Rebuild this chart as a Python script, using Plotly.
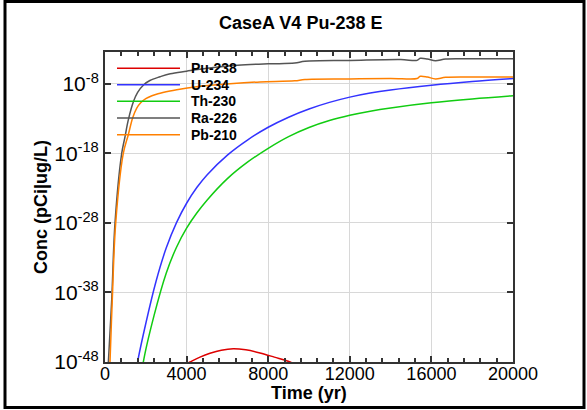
import plotly.graph_objects as go

# ---------------- data ----------------
series_names = ["Pu-238", "U-234", "Th-230", "Ra-226", "Pb-210"]
series_colors = ["#dd0000", "#3333ff", "#11cc11", "#555555", "#ff8000"]

pu238_t = [3900, 4167, 4657, 5147, 5700, 6290, 6900, 7598, 8300, 9069, 9400]
pu238_c = [4e-49, 1e-48, 5e-48, 1.8e-47, 5e-47, 8.1e-47, 5.6e-47, 2e-47, 5e-48, 1e-48, 3e-49]

u234_t = [1560, 1600, 2000, 2500, 3000, 3500, 4000, 4500, 5000, 6000, 7000, 8000, 9000,
          10000, 11000, 12000, 13000, 14000, 16000, 18000, 20000]
u234_c = [1e-49, 1e-48, 3.47e-43, 3.89e-37, 2.45e-32, 1.05e-28, 6.9e-26, 1.26e-23,
          8.3e-22, 5.9e-19, 9.3e-17, 5.9e-15, 1.66e-13, 2.5e-12, 2.24e-11, 1.29e-10,
          5.0e-10, 1.38e-09, 6.6e-09, 2.3e-08, 6.3e-08]

th230_t = [1840, 1880, 2400, 3000, 3500, 4000, 4500, 5000, 6000, 7000, 8000, 9000, 10000,
           11000, 12000, 13000, 14000, 16000, 18000, 20000]
th230_c = [1e-49, 1e-48, 4.27e-42, 6.0e-36, 3.0e-32, 1.78e-29, 2.7e-27, 1.9e-25, 2.4e-22,
           6.0e-20, 5.6e-18, 2.7e-16, 5.6e-15, 5.6e-14, 3.16e-13, 1.23e-12, 3.6e-12,
           1.95e-11, 7.1e-11, 2.04e-10]

ra226_t = [150, 165, 330, 490, 819, 980, 1140, 1400, 1600, 1900, 2200, 2700, 3200,
           4000, 5000, 6500, 8000, 9300, 9800, 12000, 14500, 15300, 15450, 15800, 16200,
           16700, 18000, 20000]
ra226_c = [3e-50, 1e-48, 1e-39, 1e-28, 1e-18, 2.5e-16, 6.3e-14, 3.2e-11, 6.3e-10,
           7.9e-09, 3.2e-08, 1.1e-07, 3e-07, 6.9e-07, 1.8e-06, 5e-06, 7.9e-06, 1e-05,
           1.8e-05, 2.4e-05, 3.2e-05, 2.5e-05, 4.9e-05, 4e-05, 2.2e-05, 4e-05, 4.2e-05,
           4.4e-05]

pb210_t = [230, 245, 358, 525, 897, 1142, 1358, 1550, 1750, 2000, 2300, 2600, 3186,
           3515, 4495, 5147, 6128, 7598, 9300, 9800, 12000, 14000, 15300, 15450, 15800,
           16200, 16700, 18000, 20000]
pb210_c = [3e-50, 1e-48, 1e-39, 1e-28, 1e-18, 5e-16, 1.4e-13, 3.2e-12, 2e-11, 7.9e-11,
           2e-10, 4e-10, 1e-09, 1.5e-09, 4e-09, 6.3e-09, 1.1e-08, 2e-08, 2.8e-08,
           4.5e-08, 5.4e-08, 6.3e-08, 6e-08, 1.26e-07, 1e-07, 5.2e-08, 8.9e-08, 1e-07,
           1.02e-07]

x_tickvals = [0, 4000, 8000, 12000, 16000, 20000]
y_tickvals = [1e-48, 1e-38, 1e-28, 1e-18, 1e-8]
y_ticktext = ["10<sup>-48</sup>", "10<sup>-38</sup>", "10<sup>-28</sup>",
              "10<sup>-18</sup>", "10<sup>-8</sup>"]

# ---------------- figure ----------------
W, H = 587, 410
L, R, T, B = 105, 74, 52, 48
PW, PH = W - L - R, H - T - B
FONT = "Liberation Sans, Arial, sans-serif"


def px_x(px):
    return (px - L) / PW


def px_y(py):
    return (H - B - py) / PH


fig = go.Figure()
all_t = [pu238_t, u234_t, th230_t, ra226_t, pb210_t]
all_c = [pu238_c, u234_c, th230_c, ra226_c, pb210_c]
for name, color, t, c in zip(series_names, series_colors, all_t, all_c):
    fig.add_trace(go.Scatter(x=t, y=c, mode="lines", name=name,
                             line=dict(color=color, width=1.5, shape="spline", smoothing=1.0),
                             showlegend=False, hoverinfo="skip"))

axis_common = dict(showline=True, mirror="allticks", linecolor="#333333", linewidth=2,
                   ticks="inside", tickcolor="#333333", ticklen=6, tickwidth=1.5,
                   showgrid=True, gridcolor="#d8d8d8", gridwidth=1, zeroline=False)

fig.update_xaxes(range=[0, 20000], tickvals=x_tickvals, ticktext=[str(v) for v in x_tickvals],
                 tickfont=dict(family=FONT, size=18, color="black"),
                 ticklabelstandoff=-6,
                 minor=dict(dtick=800, tick0=0, ticks="inside", ticklen=4,
                            tickcolor="#333333", showgrid=False),
                 **axis_common)
fig.update_yaxes(type="log", range=[-48, -3.4], tickvals=y_tickvals, ticktext=y_ticktext,
                 tickfont=dict(family=FONT, size=21, color="black"),
                 **axis_common)

# legend drawn as keys + labels
legend_rows = [68.3, 84.7, 101.3, 118.0, 134.7]
shapes = []
annotations = []
for name, color, yrow in zip(series_names, series_colors, legend_rows):
    shapes.append(dict(type="line", xref="paper", yref="paper",
                       x0=px_x(117), x1=px_x(180), y0=px_y(yrow), y1=px_y(yrow),
                       line=dict(color=color, width=1.5)))
    annotations.append(dict(text="<b>%s</b>" % name, xref="paper", yref="paper",
                            x=px_x(189), y=px_y(yrow), xanchor="left", yanchor="middle",
                            showarrow=False, font=dict(family=FONT, size=14, color="black")))

# outer frame
shapes.append(dict(type="rect", xref="paper", yref="paper",
                   x0=px_x(5), x1=px_x(584), y0=px_y(407.5), y1=px_y(1.5),
                   line=dict(color="black", width=3)))

annotations.append(dict(text="<b>Time (yr)</b>", xref="paper", yref="paper",
                        x=px_x(309), y=px_y(393), xanchor="center", yanchor="middle",
                        showarrow=False, font=dict(family=FONT, size=18, color="black")))
annotations.append(dict(text="<b>Conc (pCi|ug/L)</b>", xref="paper", yref="paper",
                        x=px_x(41), y=px_y(207), xanchor="center", yanchor="middle",
                        textangle=-90, showarrow=False,
                        font=dict(family=FONT, size=18, color="black")))
annotations.append(dict(text="<b>CaseA V4 Pu-238 E</b>", xref="paper", yref="paper",
                        x=px_x(300), y=px_y(23.5), xanchor="center", yanchor="middle",
                        showarrow=False, font=dict(family=FONT, size=18, color="black")))

fig.update_layout(width=W, height=H, margin=dict(l=L, r=R, t=T, b=B, pad=0),
                  paper_bgcolor="white", plot_bgcolor="white",
                  shapes=shapes, annotations=annotations, showlegend=False)

fig.write_html("out.html", config={"displayModeBar": False},
               post_script="document.body.style.margin='0';document.body.style.padding='0';"
                           "document.body.style.overflow='hidden';")
